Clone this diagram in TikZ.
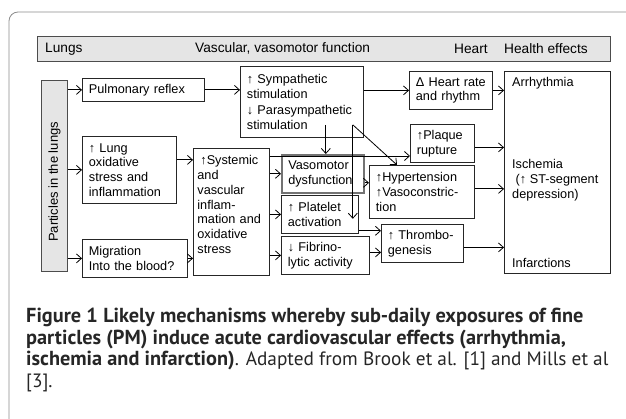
\documentclass[tikz,border=0pt]{standalone}
\usepackage{fontspec}
\setmainfont{Liberation Sans}
\newfontfamily\capfont{PT Sans}
\usetikzlibrary{arrows.meta}

\tikzset{
  box/.style = {draw=black!85, line width=0.8pt, inner xsep=6.5pt, inner ysep=0pt,
    align=left, anchor=north west, font=\fontsize{12.7}{14.8}\selectfont},
  shaded/.style = {draw=black!70, fill=black!10, line width=0.8pt, inner sep=0pt,
    anchor=north west, font=\fontsize{13}{15}\selectfont},
  txt/.style = {anchor=west, inner sep=0pt, align=left, font=\fontsize{12.7}{14.8}\selectfont},
  hdrtxt/.style = {anchor=west, inner sep=0pt, font=\fontsize{13.7}{15}\selectfont},
  link/.style = {-{Straight Barb[length=5pt,width=9pt]}, line width=0.8pt},
}

\begin{document}
\begin{tikzpicture}[x=1pt, y=-1pt]
\useasboundingbox (0,0) rectangle (626,419);
\draw[black!45, line width=0.8pt, rounded corners=9pt] (9,419) -- (9,12) -- (626,12);

\node[shaded, minimum width=573pt, minimum height=25pt] (hdr) at (37,36) {};
\node[shaded, minimum width=26pt, minimum height=191pt] (part) at (41,80) {\rotatebox{90}{Particles in the lungs\hspace{12pt}}};

\node[box, text width=109pt, minimum height=23pt] (pulm) at (82,78) {Pulmonary reflex};
\node[box, text width=81pt, minimum height=67pt] (lungox) at (82,136) {↑ Lung\\ oxidative\\ stress and\\ inflammation};
\node[box, text width=92pt, minimum height=38pt] (migr) at (82,239) {Migration\\ Into the blood?};
\node[box, text width=68pt, inner xsep=4pt, minimum height=127pt] (systemic) at (193,148) {\hspace{3pt}↑Systemic\\ and\\ vascular\\ inflam-\\ mation and\\ oxidative\\ stress\\ \mbox{}};
\node[box, text width=110pt, minimum height=71pt] (symp) at (240,66) {↑ Sympathetic\\ stimulation\\[2pt] ↓ Parasympathetic\\ stimulation};
\node[box, text width=69pt, minimum height=38pt, draw=black!55, line width=1.6pt] (vaso) at (281,154) {Vasomotor\\ dysfunction};
\node[box, text width=64pt, minimum height=38pt] (plate) at (281,195) {↑ Platelet\\ activation};
\node[box, text width=75pt, minimum height=38pt] (fibr) at (281,236) {↓ Fibrino-\\ lytic activity};
\node[box, text width=70pt, minimum height=38pt] (heart) at (409,71) {Δ Heart rate\\ and rhythm};
\node[box, text width=51pt, minimum height=38pt] (plaque) at (410,124) {↑Plaque\\ rupture};
\node[box, text width=92pt, minimum height=53pt] (hyper) at (369,165) {↑Hypertension\\ ↑Vasoconstric-\\ tion};
\node[box, text width=69pt, minimum height=38pt] (thromb) at (381,224) {↑ Thrombo-\\ genesis};
\node[box, minimum width=106pt, minimum height=202pt] (health) at (504,71) {};

\node[txt] (arr) at ([xshift=8pt,yshift=-12pt]health.north west) {Arrhythmia};
\node[txt] (isch) at ([xshift=8pt,yshift=-8pt]health.west) {Ischemia\\ \ (↑ ST-segment\\ depression)};
\node[txt] (infa) at ([xshift=8pt,yshift=11pt]health.south west) {Infarctions};

\node[hdrtxt] (hlung) at ([xshift=8pt]hdr.west) {Lungs};
\node[hdrtxt] (hvasc) at ([xshift=158pt]hdr.west) {Vascular, vasomotor function};
\node[hdrtxt] (hheart) at ([xshift=417pt]hdr.west) {Heart};
\node[hdrtxt] (hhealth) at (hdr.west -| health.west) {Health effects};

\coordinate (lo) at ([yshift=10pt]lungox.east);
\coordinate (sp) at ([yshift=-8pt]systemic.north east);
\coordinate (vh) at ([yshift=-9pt]vaso.east);
\coordinate (pt) at ([yshift=3pt]plate.south east);
\coordinate (ft) at ([yshift=3pt]fibr.east);
\coordinate (ph) at ([yshift=-4pt]plaque.east);
\coordinate (hh) at ([yshift=3pt]hyper.east);
\coordinate (th) at ([yshift=-4pt]thromb.east);
\coordinate (sb) at ([yshift=13pt]symp.south);
\coordinate (va) at ([xshift=3pt]vaso.north);
\coordinate (pa) at ([xshift=-6pt,yshift=15pt]plate.south east);

\draw[link] (pulm.west -| part.east) -- (pulm.west);
\draw[link] (lungox.west -| part.east) -- (lungox.west);
\draw[link] (migr.west -| part.east) -- (migr.west);
\draw[link] (pulm.east) -- (pulm.east -| symp.west);
\draw[link] (lo) -- (lo -| systemic.west);
\draw[link] (migr.east) -- (migr.east -| systemic.west);
\draw[link] (heart.west -| symp.east) -- (heart.west);
\draw[link] (heart.east) -- (heart.east -| health.west);
\draw[link] (sp) -- (sp -| plaque.west);
\draw[link] (vaso.west -| systemic.east) -- (vaso.west);
\draw[link] (plate.west -| systemic.east) -- (plate.west);
\draw[link] (fibr.west -| systemic.east) -- (fibr.west);
\draw[link] (vh) -- (vh -| hyper.west);
\draw[link] (pt) -- (pt -| thromb.west);
\draw[link] (ft) -- (ft -| thromb.west);
\draw[link] (ph) -- (ph -| health.west);
\draw[link] (hh) -- (hh -| health.west);
\draw[link] (th) -- (th -| health.west);
\draw[link] (sb -| va) -- (va);
\draw[link] (sb -| pa) -- (pa);
\draw[link] (sb -| pa) -- ([xshift=28pt]hyper.north west);

\node[anchor=north west, inner sep=0pt, align=left, text=black!85,
  font=\capfont\fontsize{20.3}{21.5}\selectfont] (cap) at (26,308)
  {\textbf{Figure 1} \textbf{Likely mechanisms whereby sub-daily exposures of fine}\\
   \textbf{particles (PM) induce acute cardiovascular effects (arrhythmia,}\\
   \textbf{ischemia and infarction)}{\fontsize{19.3}{21.5}\selectfont. Adapted from Brook et al. [1] and Mills et al}\\
   {\fontsize{19.3}{21.5}\selectfont [3].}};
\end{tikzpicture}
\end{document}
